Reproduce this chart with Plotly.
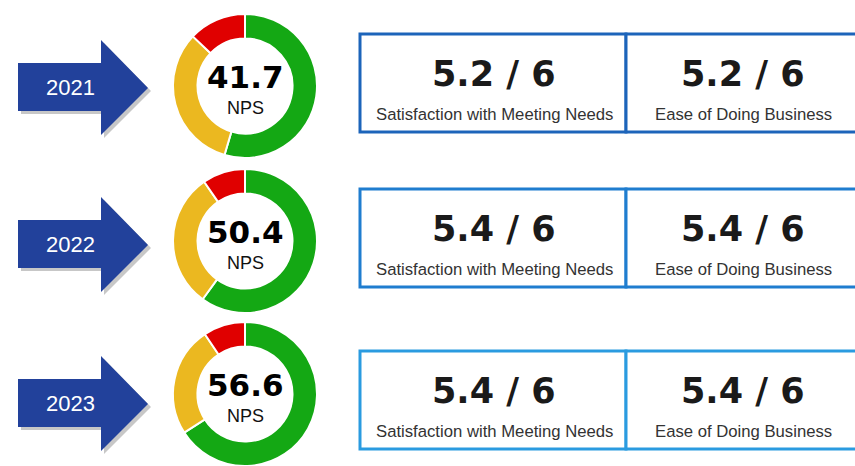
import plotly.graph_objects as go

# ---- data ----
years = ["2021", "2022", "2023"]
nps = [41.7, 50.4, 56.6]
promoters = [54.6, 60.0, 66.0]
passives = [32.5, 30.4, 24.6]
detractors = [12.9, 9.6, 9.4]
satisfaction = [5.2, 5.4, 5.4]
ease = [5.2, 5.4, 5.4]
scale_max = 6
metric_labels = ["Satisfaction with Meeting Needs", "Ease of Doing Business"]

# ---- layout constants (pixels from top-left) ----
W, H = 855, 466
arrow_cy = [87, 244, 403]
box_cy = [83, 238, 400]
donut_cy = [86, 241, 394]
donut_cx, donut_r = 245, 72
box_border = ["#1C64BA", "#1F7DCF", "#2A9BE0"]
seg_colors = ["#14A814", "#EBB820", "#E00000"]
arrow_color = "#22419B"

fig = go.Figure()

shapes = []
annotations = []


def arrow_path(cy, dx=0, dy=0):
    pts = [(18, cy - 24), (101, cy - 24), (101, cy - 47), (148, cy + 1),
           (101, cy + 48), (101, cy + 24), (18, cy + 24)]
    return "M " + " L ".join(f"{x + dx},{y + dy}" for x, y in pts) + " Z"


for i, yr in enumerate(years):
    dcy = donut_cy[i]
    y0 = max(0.0, 1 - (dcy + donut_r) / H)
    y1 = min(1.0, 1 - (dcy - donut_r) / H)
    # donut
    fig.add_trace(go.Pie(
        values=[promoters[i], passives[i], detractors[i]],
        labels=["Promoters", "Passives", "Detractors"],
        marker=dict(colors=seg_colors, line=dict(color="white", width=2)),
        hole=0.66, sort=False, direction="clockwise", rotation=0,
        textinfo="none", showlegend=False,
        domain=dict(x=[(donut_cx - donut_r) / W, (donut_cx + donut_r) / W], y=[y0, y1]),
    ))
    annotations.append(dict(x=donut_cx, y=dcy - 9, xref="x", yref="y",
                            text=f"{nps[i]:.1f}", showarrow=False,
                            font=dict(family="DejaVu Sans", size=31, color="black", weight="bold")))
    annotations.append(dict(x=donut_cx, y=dcy + 22, xref="x", yref="y",
                            text="NPS", showarrow=False,
                            font=dict(family="Liberation Sans, Arial", size=18, color="#111")))

    # arrow (shadow + body)
    acy = arrow_cy[i]
    shapes.append(dict(type="path", xref="x", yref="y", path=arrow_path(acy, 3, 3),
                       fillcolor="rgba(0,0,0,0.22)", line=dict(width=0), layer="below"))
    shapes.append(dict(type="path", xref="x", yref="y", path=arrow_path(acy),
                       fillcolor=arrow_color, line=dict(width=0), layer="below"))
    annotations.append(dict(x=70, y=acy, xref="x", yref="y", text=yr, showarrow=False,
                            font=dict(family="Liberation Sans, Arial", size=22, color="white")))

    # boxes
    bcy = box_cy[i]
    top, bot = bcy - 49, bcy + 49
    shapes.append(dict(type="rect", xref="x", yref="y", x0=360, x1=626, y0=top, y1=bot,
                       line=dict(color=box_border[i], width=3), fillcolor="white", layer="below"))
    shapes.append(dict(type="rect", xref="x", yref="y", x0=626, x1=862, y0=top, y1=bot,
                       line=dict(color=box_border[i], width=3), fillcolor="white", layer="below"))
    for cx, val, lab in [(494, satisfaction[i], metric_labels[0]), (743, ease[i], metric_labels[1])]:
        annotations.append(dict(x=cx, y=bcy - 9, xref="x", yref="y",
                                text=f"{val:.1f} / {scale_max}", showarrow=False,
                                font=dict(family="DejaVu Sans", size=35, color="#1a1a1a", weight="bold")))
        annotations.append(dict(x=cx, y=bcy + 31, xref="x", yref="y", text=lab, showarrow=False,
                                font=dict(family="Liberation Sans, Arial", size=16.7, color="#333")))

fig.update_layout(
    width=W, height=H, margin=dict(l=0, r=0, t=0, b=0),
    paper_bgcolor="white", plot_bgcolor="white",
    xaxis=dict(range=[0, W], visible=False, fixedrange=True),
    yaxis=dict(range=[H, 0], visible=False, fixedrange=True),
    shapes=shapes, annotations=annotations,
)

fig.write_html("out.html", config={"displayModeBar": False},
               post_script="document.body.style.margin='0px';document.body.style.overflow='hidden';")
